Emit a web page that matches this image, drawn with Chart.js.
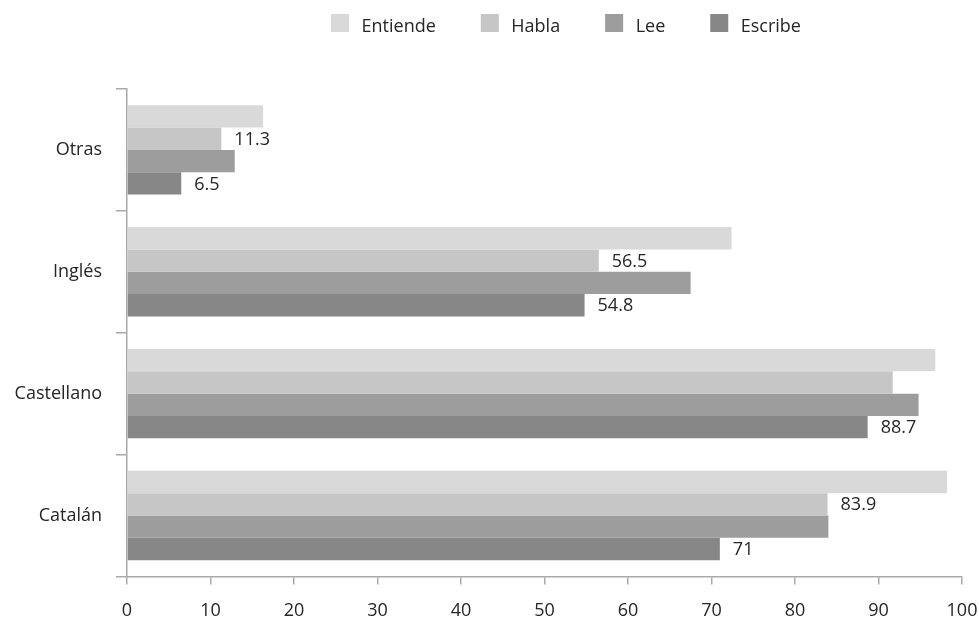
<!DOCTYPE html>
<html>
<head>
<meta charset="utf-8">
<script src="https://cdn.jsdelivr.net/npm/chart.js@4.4.1/dist/chart.umd.min.js"></script>
<style>
  html, body { margin: 0; padding: 0; background: #ffffff; }
  #wrap { width: 979px; height: 618px; }
</style>
</head>
<body>
<div id="wrap"><canvas id="chart" width="979" height="618"></canvas></div>
<script>
// Language skills by language (percent)
const categories = ['Otras', 'Inglés', 'Castellano', 'Catalán'];
const seriesNames = ['Entiende', 'Habla', 'Lee', 'Escribe'];
const entiende = [16.3, 72.4, 96.8, 98.2];
const habla = [11.3, 56.5, 91.7, 83.9];
const lee = [12.9, 67.5, 94.8, 84.0];
const escribe = [6.5, 54.8, 88.7, 71];
// which bars carry a value label
const hablaLabeled = [true, true, false, true];
const escribeLabeled = [true, true, true, true];
const xMin = 0, xMax = 100, xStep = 10;

const FONT = "'Open Sans', 'DejaVu Sans', sans-serif";
const FONT_SIZE = 18;
const TEXT = '#262626';
const AXIS = '#a9a9a9';

// value labels drawn just past the end of the chosen bars
const valueLabels = {
  id: 'valueLabels',
  afterDatasetsDraw(chart) {
    const ctx = chart.ctx;
    ctx.save();
    ctx.font = FONT_SIZE + 'px ' + FONT;
    ctx.fillStyle = TEXT;
    ctx.textAlign = 'left';
    ctx.textBaseline = 'middle';
    chart.data.datasets.forEach((ds, di) => {
      if (!ds.labeled) return;
      const meta = chart.getDatasetMeta(di);
      meta.data.forEach((bar, i) => {
        if (!ds.labeled[i]) return;
        ctx.fillText(String(ds.data[i]), bar.x + 13, bar.y + 1);
      });
    });
    ctx.restore();
  }
};

// legend row above the plot: swatch + name for each series
const legendRow = {
  id: 'legendRow',
  afterDraw(chart) {
    const ctx = chart.ctx;
    const box = 18, textGap = 12.5, itemGap = 45, top = 14, baseline = 32, center = 566;
    ctx.save();
    ctx.font = FONT_SIZE + 'px ' + FONT;
    ctx.textBaseline = 'alphabetic';
    ctx.textAlign = 'left';
    const items = chart.data.datasets.map(ds => ({
      label: ds.label, color: ds.backgroundColor, w: ctx.measureText(ds.label).width
    }));
    const total = items.reduce((s, it) => s + box + textGap + it.w, 0) + itemGap * (items.length - 1);
    let x = center - total / 2;
    items.forEach(it => {
      ctx.fillStyle = it.color;
      ctx.fillRect(x, top, box, box);
      ctx.fillStyle = TEXT;
      ctx.fillText(it.label, x + box + textGap, baseline);
      x += box + textGap + it.w + itemGap;
    });
    ctx.restore();
  }
};

const colors = ['#d9d9d9', '#c6c6c6', '#9d9d9d', '#878787'];
const values = [entiende, habla, lee, escribe];
const labeledFlags = [null, hablaLabeled, null, escribeLabeled];

new Chart(document.getElementById('chart'), {
  type: 'bar',
  data: {
    labels: categories,
    datasets: seriesNames.map((name, i) => ({
      label: name,
      data: values[i],
      backgroundColor: colors[i],
      borderWidth: 0,
      categoryPercentage: 0.733,
      barPercentage: 1.0,
      labeled: labeledFlags[i]
    }))
  },
  options: {
    indexAxis: 'y',
    responsive: false,
    animation: false,
    devicePixelRatio: 1,
    layout: { padding: { top: 89, right: 17, bottom: -20, left: 0 } },
    plugins: {
      legend: { display: false },
      tooltip: { enabled: false }
    },
    scales: {
      x: {
        min: xMin,
        max: xMax,
        ticks: {
          stepSize: xStep,
          color: TEXT,
          font: { family: FONT, size: FONT_SIZE },
          padding: 16,
          maxRotation: 0
        },
        grid: {
          drawOnChartArea: false,
          drawTicks: true,
          tickLength: 8,
          color: AXIS,
          lineWidth: 1.5
        },
        border: { color: AXIS, width: 1.5 },
        afterFit(scale) { scale.paddingLeft = 0; scale.paddingRight = 0; }
      },
      y: {
        ticks: {
          color: TEXT,
          font: { family: FONT, size: FONT_SIZE },
          padding: 14
        },
        grid: {
          drawOnChartArea: false,
          drawTicks: true,
          tickLength: 11,
          offset: true,
          color: AXIS,
          lineWidth: 1.5
        },
        border: { color: AXIS, width: 1.5 },
        afterFit(scale) { scale.width = 127; }
      }
    }
  },
  plugins: [valueLabels, legendRow]
});
</script>
</body>
</html>
